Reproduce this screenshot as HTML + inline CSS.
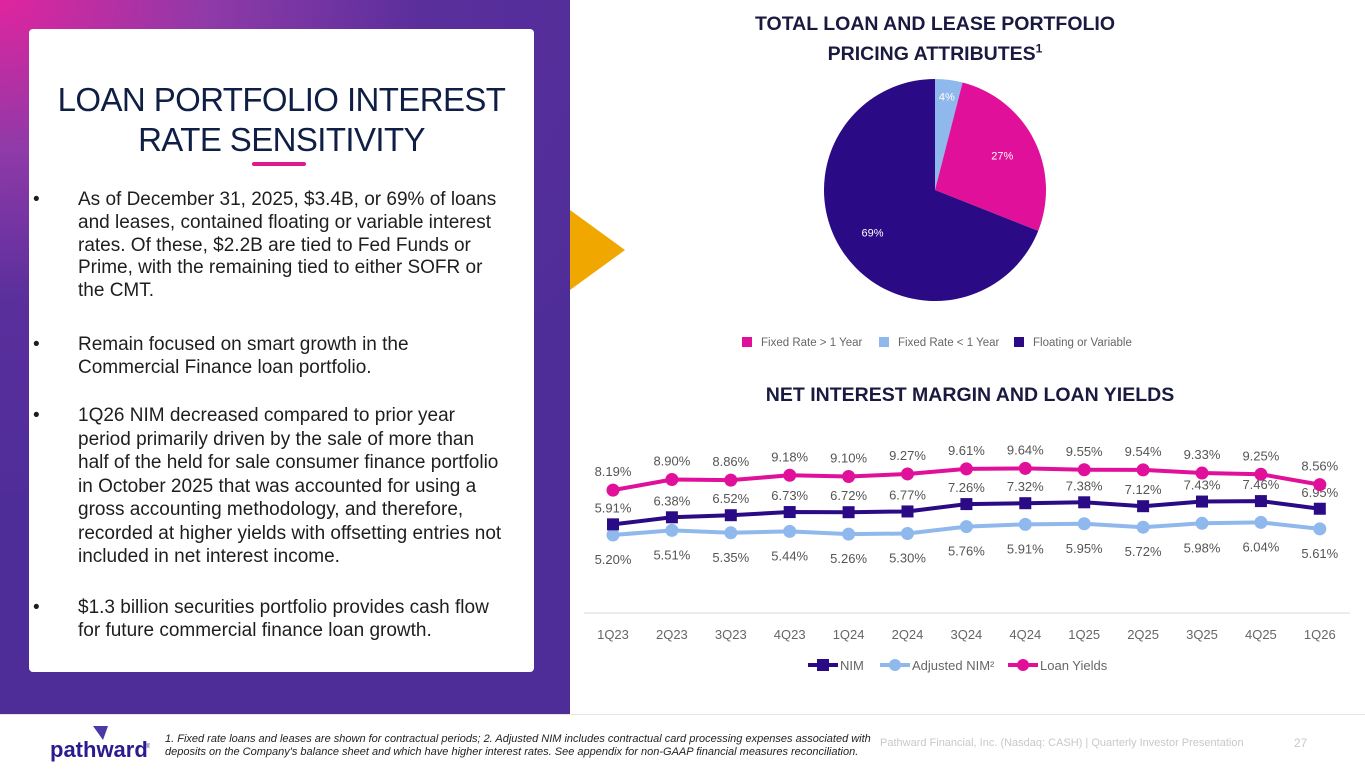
<!DOCTYPE html>
<html><head><meta charset="utf-8">
<style>
*{margin:0;padding:0;box-sizing:border-box}
body{width:1365px;height:768px;position:relative;background:#fff;font-family:"Liberation Sans",sans-serif;overflow:hidden}
#panel{position:absolute;left:0;top:0;width:570px;height:715px;background:radial-gradient(ellipse 700px 500px at 0 0,#e0249e 0%,#8f3aa8 30%,#5a2f9c 60%,#4f2d99 100%)}
#card{position:absolute;left:29px;top:29px;width:505px;height:643px;background:#fff;border-radius:4px}
#title{position:absolute;left:0;top:80px;width:563px;text-align:center;font-size:33px;line-height:40px;color:#0f1e45;letter-spacing:-0.6px}
#bar{position:absolute;left:252px;top:162px;width:54px;height:4px;border-radius:2px;background:#e0188f}
ul{position:absolute;left:33px;top:0;width:500px;list-style:none;font-size:19px;line-height:22.8px;color:#1e1e1e;white-space:nowrap}
li{position:absolute;left:0;padding-left:45px}
li:before{content:"•";position:absolute;left:0;top:0}
#tri{position:absolute;left:570px;top:210px;width:0;height:0;border-top:40px solid transparent;border-bottom:40px solid transparent;border-left:55px solid #f0a800}
.h{position:absolute;font-weight:bold;color:#1a1a40;text-align:center;font-size:19.5px}
#foot{position:absolute;left:0;top:714px;width:1365px;height:1px;background:#e4e4e4}
</style></head><body>
<div id="panel"></div>
<div id="card"></div>
<div id="title">LOAN PORTFOLIO INTEREST<br>RATE SENSITIVITY</div>
<div id="bar"></div>
<ul>
<li style="top:189px">As of December 31, 2025, $3.4B, or 69% of loans<br>and leases, contained floating or variable interest<br>rates. Of these, $2.2B are tied to Fed Funds or<br>Prime, with the remaining tied to either SOFR or<br>the CMT.</li>
<li style="top:334px">Remain focused on smart growth in the<br>Commercial Finance loan portfolio.</li>
<li style="top:404px;line-height:23.5px">1Q26 NIM decreased compared to prior year<br>period primarily driven by the sale of more than<br>half of the held for sale consumer finance portfolio<br>in October 2025 that was accounted for using a<br>gross accounting methodology, and therefore,<br>recorded at higher yields with offsetting entries not<br>included in net interest income.</li>
<li style="top:597px">$1.3 billion securities portfolio provides cash flow<br>for future commercial finance loan growth.</li>
</ul>
<div id="tri"></div>
<div class="h" style="left:690px;top:9px;width:490px;line-height:30px">TOTAL LOAN AND LEASE PORTFOLIO<br>PRICING ATTRIBUTES<sup style="font-size:12px;line-height:0">1</sup></div>
<div class="h" style="left:640px;top:384px;width:660px">NET INTEREST MARGIN AND LOAN YIELDS</div>
<svg id="pie" width="1365" height="768" style="position:absolute;left:0;top:0" font-family="Liberation Sans, sans-serif"></svg>
<svg id="line" width="1365" height="768" style="position:absolute;left:0;top:0" font-family="Liberation Sans, sans-serif"></svg>
<div id="foot"></div>
<div style="position:absolute;left:50px;top:724px;width:100px;height:40px">
<svg width="100" height="40"><polygon points="43,2 58,2 53,16" fill="#4a3aa6"/><text x="0" y="33" font-size="22" font-weight="bold" fill="#2a1b8f" font-family="Liberation Sans, sans-serif">pathward</text><text x="96" y="24" font-size="6" fill="#2a1b8f">®</text></svg></div>
<div style="position:absolute;left:165px;top:733px;width:720px;font-size:11px;line-height:13px;font-style:italic;color:#222;white-space:nowrap">1. Fixed rate loans and leases are shown for contractual periods; 2. Adjusted NIM includes contractual card processing expenses associated with<br>deposits on the Company's balance sheet and which have higher interest rates. See appendix for non-GAAP financial measures reconciliation.</div>
<div style="position:absolute;left:880px;top:737px;font-size:11px;color:#c8c8c8">Pathward Financial, Inc. (Nasdaq: CASH) | Quarterly Investor Presentation</div>
<div style="position:absolute;left:1294px;top:736px;font-size:12px;color:#c8c8c8">27</div>
<script>
const NS="http://www.w3.org/2000/svg";
function mk(p,t,a){const e=document.createElementNS(NS,t);for(const k in a)e.setAttribute(k,a[k]);p.appendChild(e);return e;}
// Pie data
const pieLabels=["Fixed Rate < 1 Year","Fixed Rate > 1 Year","Floating or Variable"];
const pieValues=[4,27,69];
const pieColors=["#8fb8ec","#e0109a","#2a0a85"];
const pie=document.getElementById('pie');
const cx=935,cy=190,r=111;let a0=0;
const tot=pieValues.reduce((s,v)=>s+v,0);
pieValues.forEach((v,i)=>{
  const a1=a0+v/tot*2*Math.PI;
  const x0=cx+r*Math.sin(a0),y0=cy-r*Math.cos(a0),x1=cx+r*Math.sin(a1),y1=cy-r*Math.cos(a1);
  const p=mk(pie,'path',{d:`M${cx},${cy}L${x0},${y0}A${r},${r} 0 ${a1-a0>Math.PI?1:0} 1 ${x1},${y1}Z`,fill:pieColors[i]});
  
  
  const am=(a0+a1)/2,lr=i==0?r*0.85:r*0.68;
  const t=mk(pie,'text',{x:cx+lr*Math.sin(am),y:cy-lr*Math.cos(am)+4,'font-size':11,fill:'#fff','text-anchor':'middle'});
  t.textContent=v+'%';
  
  
  a0=a1;
});
const legOrder=[1,0,2],legX=[742,879,1014];
legOrder.forEach((k,j)=>{
  const rc=mk(pie,'rect',{x:legX[j],y:337,width:10,height:10,fill:pieColors[k]});
  
  
  const t=mk(pie,'text',{x:legX[j]+19,y:346,'font-size':11.5,fill:'#666'});t.textContent=pieLabels[k];
  
  
});
// Line chart data
const quarters=["1Q23","2Q23","3Q23","4Q23","1Q24","2Q24","3Q24","4Q24","1Q25","2Q25","3Q25","4Q25","1Q26"];
const loanYields=[8.19,8.90,8.86,9.18,9.10,9.27,9.61,9.64,9.55,9.54,9.33,9.25,8.56];
const nim=[5.91,6.38,6.52,6.73,6.72,6.77,7.26,7.32,7.38,7.12,7.43,7.46,6.95];
const adjNim=[5.20,5.51,5.35,5.44,5.26,5.30,5.76,5.91,5.95,5.72,5.98,6.04,5.61];
const L=document.getElementById('line');
const xS=i=>613+i*58.9, yS=v=>613-15*v;
const ax=mk(L,'line',{x1:584,x2:1350,y1:613,y2:613,stroke:'#d9d9d9'});


quarters.forEach((q,i)=>{
  const t=mk(L,'text',{x:xS(i),y:639,'font-size':13,fill:'#666','text-anchor':'middle'});t.textContent=q;
  
  
});
const series=[{d:adjNim,c:'#8fb8ec',m:'circle',n:'adjusted-nim',off:29},{d:nim,c:'#2a0a85',m:'square',n:'nim',off:-12},{d:loanYields,c:'#e0109a',m:'circle',n:'loan-yields',off:-14}];
series.forEach(s=>{
  const pl=mk(L,'polyline',{points:s.d.map((v,i)=>xS(i)+','+yS(v)).join(' '),fill:'none',stroke:s.c,'stroke-width':4});
  
  
  s.d.forEach((v,i)=>{
    const x=xS(i),y=yS(v);let m;
    if(s.m=='square')m=mk(L,'rect',{x:x-6,y:y-6,width:12,height:12,fill:s.c});
    else m=mk(L,'circle',{cx:x,cy:y,r:6.5,fill:s.c});
    
    
    const t=mk(L,'text',{x:x,y:y+s.off,'font-size':13,fill:'#555','text-anchor':'middle'});t.textContent=v.toFixed(2)+'%';
    
    
  });
});
const lg=[{n:'NIM',c:'#2a0a85',m:'square',x:808},{n:'Adjusted NIM²',c:'#8fb8ec',m:'circle',x:880},{n:'Loan Yields',c:'#e0109a',m:'circle',x:1008}];
lg.forEach(g=>{
  const l=mk(L,'line',{x1:g.x,x2:g.x+30,y1:665,y2:665,stroke:g.c,'stroke-width':4});
  
  
  let m;
  if(g.m=='square')m=mk(L,'rect',{x:g.x+9,y:659,width:12,height:12,fill:g.c});
  else m=mk(L,'circle',{cx:g.x+15,cy:665,r:6,fill:g.c});
  
  
  const t=mk(L,'text',{x:g.x+32,y:670,'font-size':13,fill:'#666'});t.textContent=g.n;
  
  
});
</script>
</body></html>
